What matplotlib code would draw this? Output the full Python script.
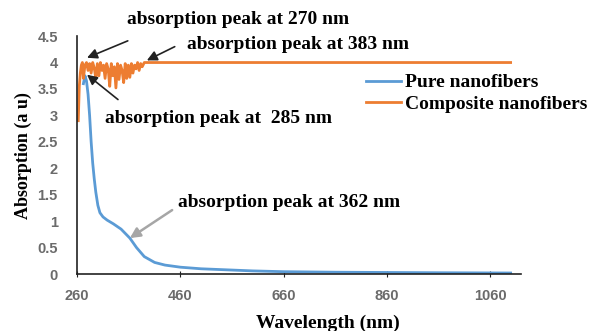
import numpy as np
import matplotlib.pyplot as plt

# UV-vis absorption spectra of the nanofiber samples
pure_wl = [272, 275, 278, 281, 284, 287, 290, 293, 296, 300, 304, 310, 318,
           330, 345, 362, 375, 390, 410, 430, 460, 500, 550, 600, 660, 760, 860,
           960, 1100]
pure_abs = [3.60, 3.75, 3.65, 3.40, 3.00, 2.50, 2.10, 1.80, 1.55, 1.30, 1.16,
            1.08, 1.02, 0.95, 0.85, 0.68, 0.50, 0.33, 0.22, 0.17, 0.13, 0.10, 0.08,
            0.06, 0.045, 0.035, 0.03, 0.025, 0.02]

comp_wl = [262, 264, 266, 268, 270, 272, 275, 278, 281, 284, 287, 290, 293, 296,
           299, 302, 305, 308, 311, 314, 317, 320, 323, 326, 329, 332, 335, 338,
           341, 344, 347, 350, 353, 356, 359, 362, 365, 368, 371, 374, 377, 380,
           383, 386, 390, 395, 1100]
comp_abs = [2.90, 3.55, 3.80, 3.95, 4.00, 3.70, 3.95, 4.00, 3.85, 3.98, 3.80, 4.00,
            3.90, 3.70, 3.98, 3.75, 4.00, 3.85, 3.95, 3.70, 3.98, 3.88, 3.55, 3.98,
            3.75, 3.92, 3.52, 3.98, 3.68, 3.95, 3.85, 3.62, 3.98, 3.70, 3.95, 3.72,
            3.98, 3.80, 3.95, 3.88, 4.00, 3.85, 3.98, 3.92, 4.00, 4.00, 4.00]

fig = plt.figure(figsize=(5.94, 3.31), dpi=100)
ax = fig.add_axes([0.13, 0.172, 0.747, 0.719])

ax.plot(pure_wl, pure_abs, color='#5b9bd5', lw=2, label='Pure nanofibers')
ax.plot(comp_wl, comp_abs, color='#ed7d31', lw=2, label='Composite nanofibers')

ax.set_xlim(260, 1120)
ax.set_ylim(0, 4.5)
ax.set_xticks([260, 460, 660, 860, 1060])
ax.set_yticks(np.arange(0, 4.6, 0.5))
ax.set_yticklabels(['0', '0.5', '1', '1.5', '2', '2.5', '3', '3.5', '4', '4.5'])
for s in ['top', 'right']:
    ax.spines[s].set_visible(False)
for s in ['left', 'bottom']:
    ax.spines[s].set_linewidth(1.2)
    ax.spines[s].set_color('#222222')
ax.tick_params(axis='y', length=0, pad=14)
ax.tick_params(axis='x', length=4, direction='inout', pad=9, color='#222222')
for lab in ax.get_xticklabels() + ax.get_yticklabels():
    lab.set_fontfamily('Liberation Sans')
    lab.set_fontweight('bold')
    lab.set_fontsize(10.5)
    lab.set_color('#6b6b6b')

serif = dict(family='Liberation Serif', weight='bold')
ax.set_xlabel('Wavelength (nm)', fontsize=14, **serif)
ax.xaxis.set_label_coords(0.565, -0.17)
ax.set_ylabel('Absorption (a u)', fontsize=13, labelpad=4, **serif)

leg = ax.legend(loc='upper left', bbox_to_anchor=(0.612, 0.915), frameon=False,
                prop=dict(family='Liberation Serif', weight='bold', size=14),
                handlelength=1.8, handletextpad=0.2, labelspacing=0.2)

# peak labels
ax.text(357, 4.81, 'absorption peak at 270 nm', fontsize=14, va='center', **serif)
ax.text(472, 4.34, 'absorption peak at 383 nm', fontsize=14, va='center', **serif)
ax.text(314, 2.95, 'absorption peak at  285 nm', fontsize=14, va='center', **serif)
ax.text(455, 1.36, 'absorption peak at 362 nm', fontsize=14, va='center', **serif)

black_arrow = dict(arrowstyle='-|>', color='#222222', lw=1.2, mutation_scale=15,
                   shrinkA=0, shrinkB=0)
ax.annotate('', xy=(279, 4.09), xytext=(358, 4.41), arrowprops=black_arrow)
ax.annotate('', xy=(395, 4.04), xytext=(449, 4.30), arrowprops=black_arrow)
ax.annotate('', xy=(279, 3.77), xytext=(339, 3.30), arrowprops=black_arrow)
ax.annotate('', xy=(362, 0.68), xytext=(444, 1.21),
            arrowprops=dict(arrowstyle='-|>', color='#a6a6a6', lw=1.8,
                            mutation_scale=15, shrinkA=0, shrinkB=0))

fig.savefig('out.png', dpi=100)
